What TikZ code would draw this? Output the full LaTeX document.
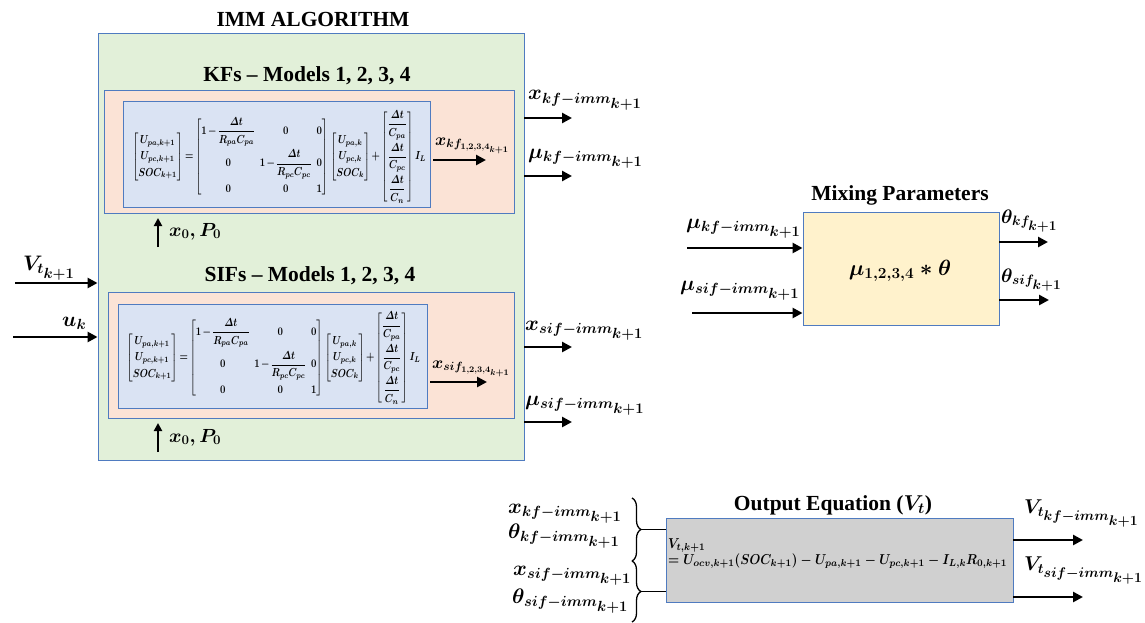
\RequirePackage{fix-cm}
\documentclass[tikz,border=0pt]{standalone}
\usepackage{amsmath}
\usepackage{graphicx}
\usepackage{fontspec}
\setmainfont{Liberation Serif}
\usetikzlibrary{arrows.meta,decorations.pathreplacing}
\definecolor{boxblue}{HTML}{4F7BC0}
\definecolor{gfill}{HTML}{E2F0D9}
\definecolor{sfill}{HTML}{FBE3D6}
\definecolor{bfill}{HTML}{DAE3F3}
\definecolor{yfill}{HTML}{FFF2CC}
\definecolor{grfill}{HTML}{D0D0D0}
\newcommand{\stateeq}{\resizebox*{294pt}{92pt}{\setlength{\arraycolsep}{2.5pt}\thickmuskip=3mu\medmuskip=2mu\boldmath$\displaystyle
\begin{bmatrix} U_{pa,k+1}\\[2pt] U_{pc,k+1}\\[2pt] SOC_{k+1}\end{bmatrix}
=\begin{bmatrix} 1-\dfrac{\varDelta t}{R_{pa}C_{pa}} & 0 & 0\\[10pt]
0 & 1-\dfrac{\varDelta t}{R_{pc}C_{pc}} & 0\\[10pt]
0 & 0 & 1\end{bmatrix}
\begin{bmatrix} U_{pa,k}\\[2pt] U_{pc,k}\\[2pt] SOC_k\end{bmatrix}
+\begin{bmatrix}\dfrac{\varDelta t}{C_{pa}}\\[10pt] \dfrac{\varDelta t}{C_{pc}}\\[10pt] \dfrac{\varDelta t}{C_n}\end{bmatrix} I_L$}}
\newcommand{\outeq}{\resizebox*{339pt}{33pt}{\boldmath\begin{tabular}{@{}l@{}}$V_{t,k+1}$\\[-1pt]$=U_{ocv,k+1}(SOC_{k+1})-U_{pa,k+1}-U_{pc,k+1}-I_{L,k}R_{0,k+1}$\end{tabular}}}
\tikzset{
  box/.style={draw=boxblue, line width=0.9pt, inner sep=0pt},
  ttl/.style={inner sep=0pt, anchor=base, font=\fontsize{21.5}{25}\selectfont\bfseries},
  lbl/.style={inner sep=0pt, anchor=base west, font=\fontsize{21}{25}\selectfont\boldmath},
  slbl/.style={lbl, font=\fontsize{17}{20}\selectfont\boldmath},
  tlbl/.style={lbl, font=\fontsize{19.5}{23}\selectfont\boldmath},
  arr/.style={line width=2.6pt, -{Triangle[length=10pt,width=10pt]}},
  brc/.style={decorate, decoration={brace, amplitude=9pt}, line width=1.3pt},
}
\begin{document}
\begin{tikzpicture}[x=1pt,y=-1pt]
\useasboundingbox (0,0) rectangle (1145,623);
% IMM box
\node[box, fill=gfill, minimum width=426pt, minimum height=427pt] (imm) at (311,246.5) {};
\node[ttl] (immt) at (313,27) {IMM ALGORITHM};
% KF block
\node[ttl] (kft) at (307,82) {KFs -- Models 1, 2, 3, 4};
\node[box, fill=sfill, minimum width=410pt, minimum height=123pt] (kf) at (309,151.5) {};
\node[box, fill=bfill, minimum width=307pt, minimum height=106pt] (kfin) at (276.5,154) {};
\node[inner sep=0pt] (kfeq) at (279,157) {\stateeq};
\coordinate (kfa1) at (433,160);
\coordinate (kfa2) at (486,160);
\draw[arr] (kfa1) -- (kfa2);
\node[slbl] (kfx) at (435,145) {$x_{kf_{1,2,3,4_{k+1}}}$};
% x0 P0 (KF)
\coordinate (p1a) at (158,247);
\coordinate (p1b) at (158,218);
\draw[arr, line width=2.3pt, -{Triangle[length=8pt,width=8pt]}] (p1a) -- (p1b);
\node[lbl, font=\fontsize{19}{22}\selectfont\boldmath] (p1l) at (169,236) {$x_0, P_0$};
% SIF block
\node[ttl] (sift) at (310,281) {SIFs -- Models 1, 2, 3, 4};
\node[box, fill=sfill, minimum width=406pt, minimum height=126pt] (sif) at (311,355) {};
\node[box, fill=bfill, minimum width=309pt, minimum height=104pt] (sifin) at (272.5,356) {};
\node[inner sep=0pt] (sifeq) at (273.5,358) {\stateeq};
\coordinate (sfa1) at (430,382);
\coordinate (sfa2) at (487,382);
\draw[arr] (sfa1) -- (sfa2);
\node[slbl] (sifx) at (432,368) {$x_{sif_{1,2,3,4_{k+1}}}$};
% x0 P0 (SIF)
\coordinate (p2a) at (158,452);
\coordinate (p2b) at (158,423);
\draw[arr, line width=2.3pt, -{Triangle[length=8pt,width=8pt]}] (p2a) -- (p2b);
\node[lbl, font=\fontsize{19}{22}\selectfont\boldmath] (p2l) at (169,442) {$x_0, P_0$};
% left inputs
\coordinate (vin) at (15,283);
\draw[arr] (vin) -- (vin -| imm.west);
\node[lbl] (vinl) at (23,270) {$V_{t_{\scriptstyle k+1}}$};
\coordinate (uin) at (13,337);
\draw[arr] (uin) -- (uin -| imm.west);
\node[lbl] (uinl) at (62,326) {$u_k$};
% right outputs of IMM
\coordinate (o1) at (572,118);
\coordinate (o2) at (572,176);
\coordinate (o3) at (572,347);
\coordinate (o4) at (572,422);
\draw[arr] (o1 -| imm.east) -- (o1);
\draw[arr] (o2 -| imm.east) -- (o2);
\draw[arr] (o3 -| imm.east) -- (o3);
\draw[arr] (o4 -| imm.east) -- (o4);
\node[lbl] (o1l) at (528,100) {$x_{kf-imm_{\scriptstyle k+1}}$};
\node[lbl] (o2l) at (528,158) {$\mu_{kf-imm_{\scriptstyle k+1}}$};
\node[lbl] (o3l) at (525,330) {$x_{sif-imm_{\scriptstyle k+1}}$};
\node[lbl] (o4l) at (525,405) {$\mu_{sif-imm_{\scriptstyle k+1}}$};
% Mixing parameters
\node[ttl] (mixt) at (900,200) {Mixing Parameters};
\node[box, fill=yfill, minimum width=196pt, minimum height=113pt] (mix) at (901,268.5) {};
\node[inner sep=0pt, anchor=base, font=\fontsize{22}{26}\selectfont\boldmath] (mixc) at (900,275) {$\mu_{1,2,3,4} * \theta$};
\coordinate (m1) at (687,248);
\coordinate (m2) at (692,313);
\draw[arr] (m1) -- (m1 -| mix.west);
\draw[arr] (m2) -- (m2 -| mix.west);
\node[lbl] (m1l) at (686,228) {$\mu_{kf-imm_{\scriptstyle k+1}}$};
\node[lbl] (m2l) at (680,290) {$\mu_{sif-imm_{\scriptstyle k+1}}$};
\coordinate (t1) at (1048,242);
\coordinate (t2) at (1049,300);
\draw[arr] (t1 -| mix.east) -- (t1);
\draw[arr] (t2 -| mix.east) -- (t2);
\node[tlbl] (t1l) at (1001,223) {$\theta_{kf_{\scriptstyle k+1}}$};
\node[tlbl] (t2l) at (1001,282) {$\theta_{sif_{\scriptstyle k+1}}$};
% Output equation
\node[ttl] (outt) at (833,510) {Output Equation ($\boldsymbol{V_t}$)};
\node[box, fill=grfill, minimum width=347pt, minimum height=84pt] (out) at (839.5,560.5) {};
\node[inner sep=0pt, anchor=north west] (oute) at (668,536) {\outeq};
\coordinate (v1) at (1083,540);
\coordinate (v2) at (1083,597);
\draw[arr] (v1 -| out.east) -- (v1);
\draw[arr] (v2 -| out.east) -- (v2);
\node[lbl, font=\fontsize{20}{24}\selectfont\boldmath] (v1l) at (1024,513) {$V_{t_{\scriptstyle kf-imm_{\scriptstyle k+1}}}$};
\node[lbl, font=\fontsize{20}{24}\selectfont\boldmath] (v2l) at (1024,570) {$V_{t_{\scriptstyle sif-imm_{\scriptstyle k+1}}}$};
% braces
\coordinate (b1t) at (632,498);
\coordinate (b1b) at (632,561);
\coordinate (b2t) at (632,561);
\coordinate (b2b) at (632,622);
\draw[brc] (b1t) -- (b1b);
\draw[brc] (b2t) -- (b2b);
\coordinate (bt1) at (641,529.5);
\coordinate (bt2) at (641,591.5);
\draw[line width=1.3pt] (bt1) -- (bt1 -| out.west);
\draw[line width=1.3pt] (bt2) -- (bt2 -| out.west);
\node[lbl] (bl1) at (508,513) {$x_{kf-imm_{\scriptstyle k+1}}$};
\node[lbl] (bl2) at (508,538) {$\theta_{kf-imm_{\scriptstyle k+1}}$};
\node[lbl] (bl3) at (513,575) {$x_{sif-imm_{\scriptstyle k+1}}$};
\node[lbl] (bl4) at (512,603) {$\theta_{sif-imm_{\scriptstyle k+1}}$};
\end{tikzpicture}
\end{document}
